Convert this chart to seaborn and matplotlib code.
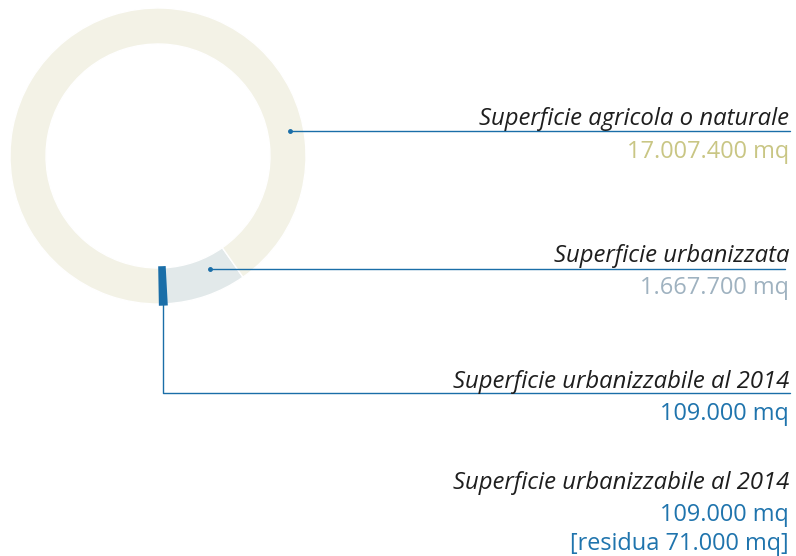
import matplotlib.pyplot as plt
import seaborn as sns
import numpy as np

# Slices, counter-clockwise from the bottom
categories = ["Superficie urbanizzabile al 2014", "Superficie urbanizzata", "Superficie agricola o naturale"]
areas_mq = [109000, 1667700, 17007400]
slice_colors = ["#1a6ea8", "#e2e9ea", "#f3f2e6"]

# Labels on the right
label_texts = [
    "Superficie agricola o naturale",
    "Superficie urbanizzata",
    "Superficie urbanizzabile al 2014",
    "Superficie urbanizzabile al 2014",
]
value_texts = ["17.007.400 mq", "1.667.700 mq", "109.000 mq", "109.000 mq", "[residua 71.000 mq]"]
value_colors = ["#c9c684", "#9fb2c0", "#1f74ad", "#1f74ad", "#1f74ad"]

sns.set_theme(style="white")
plt.rcParams["font.family"] = ["Open Sans", "DejaVu Sans"]

W, H = 796, 556
fig = plt.figure(figsize=(W / 100, H / 100), dpi=100)
ax = fig.add_axes([0, 0, 1, 1])

# donut, centre in pixel coordinates (y measured upward)
cx, cy, r_out, ring = 158, H - 156, 148, 36
wedges, _ = ax.pie(
    areas_mq,
    colors=slice_colors,
    startangle=-89,
    counterclock=True,
    center=(cx, cy),
    radius=r_out,
    wedgeprops=dict(width=ring, edgecolor="white", linewidth=1),
)
# the tiny slice gets an outline in its own colour so it stays visible
wedges[0].set_edgecolor(slice_colors[0])
wedges[0].set_linewidth(2.5)
wedges[0].set_zorder(3)

ax.set_xlim(0, W)
ax.set_ylim(0, H)
ax.set_aspect("equal")
ax.axis("off")

line_col = "#1a6ea8"
x_right = 789

# leader lines
ax.plot([290, 790], [H - 131, H - 131], color=line_col, lw=1)
ax.plot([290], [H - 131], "o", color=line_col, ms=2.5)
ax.plot([210, 785], [H - 269, H - 269], color=line_col, lw=1)
ax.plot([210], [H - 269], "o", color=line_col, ms=2.5)
ax.plot([163, 163, 790], [H - 304, H - 393, H - 393], color=line_col, lw=1)

label_baselines = [125, 262, 388, 489]
value_baselines = [158, 294, 420, 521, 550]
for txt, yb in zip(label_texts, label_baselines):
    ax.text(x_right, H - yb, txt, ha="right", va="baseline", fontsize=17.2,
            style="italic", color="#1e1e1e")
for txt, yb, c in zip(value_texts, value_baselines, value_colors):
    ax.text(x_right, H - yb, txt, ha="right", va="baseline", fontsize=16.9,
            color=c)

plt.savefig("out.png", dpi=100)
